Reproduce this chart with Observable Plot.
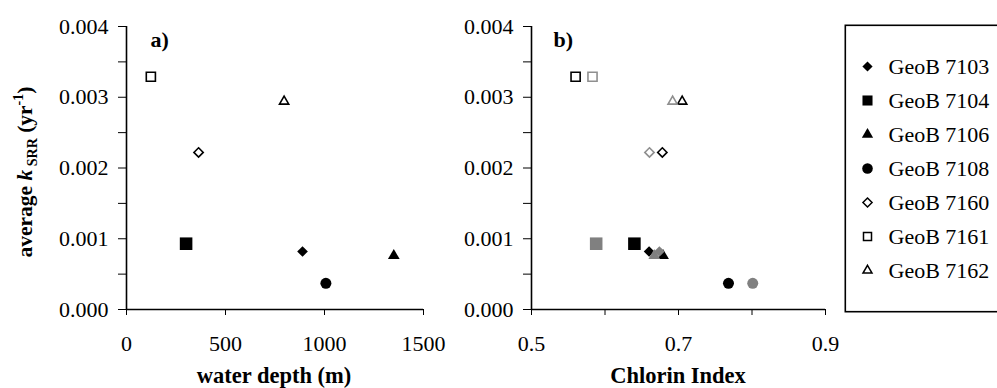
<!DOCTYPE html>
<html>
<head>
<meta charset="utf-8">
<script src="https://cdn.jsdelivr.net/npm/d3@7"></script>
<script src="https://cdn.jsdelivr.net/npm/@observablehq/plot@0.6"></script>
<style>
  html, body { margin: 0; padding: 0; background: #fff; }
  #chart { position: relative; width: 997px; height: 388px; overflow: hidden;
           font-family: "Liberation Serif", "Times New Roman", serif; color: #000; }
  #chart > svg { position: absolute; top: 0; }
</style>
</head>
<body>
<div id="chart"></div>
<script>
// Sediment cores and their average sulfate-reduction rate constants
const stations = ["GeoB 7103", "GeoB 7104", "GeoB 7106", "GeoB 7108", "GeoB 7160", "GeoB 7161", "GeoB 7162"];
const kSRR = [0.00082, 0.00093, 0.00076, 0.00037, 0.00222, 0.00329, 0.00294];
const waterDepth = [889, 301, 1350, 1007, 364, 123, 796];
// Chlorin Index, two determinations per core (black and grey symbols)
const chlorinIndex = [0.660, 0.640, 0.679, 0.768, 0.678, 0.560, 0.705];
const chlorinIndexGrey = [0.674, 0.588, 0.667, 0.801, 0.6605, 0.583, 0.692];

// Axis ticks
const kTicks = [0, 0.0005, 0.001, 0.0015, 0.002, 0.0025, 0.003, 0.0035, 0.004];
const depthTicks = [0, 500, 1000, 1500];
const chlorinTicks = [0.5, 0.6, 0.7, 0.8, 0.9];
const chlorinLabels = [0.5, 0.7, 0.9];

// Marker per core: symbol, filled or open, radius in the panels and in the legend
const symbols = ["diamond2", "square2", "triangle2", "circle", "diamond2", "square2", "triangle2"];
const filled = [true, true, true, true, false, false, false];
const radii = [4.8, 8, 5.6, 5.5, 4.2, 5.8, 4.4];
const legendRadii = [4.6, 6.4, 5.4, 5.3, 4.1, 5.1, 4.3];

const rows = stations.map((station, i) => ({
  station, k: kSRR[i], depth: waterDepth[i], ci: chlorinIndex[i], ci2: chlorinIndexGrey[i]
}));

const font = "'Liberation Serif', 'Times New Roman', serif";
const baseStyle = {fontSize: "22px", color: "#000", background: "transparent", overflow: "visible"};
const kFormat = d => Math.abs(d * 1000 - Math.round(d * 1000)) < 1e-9 ? d.toFixed(3) : "";

function dotsFor(xField, colour, openColour) {
  return rows.map((row, i) => Plot.dot([row], {
    x: xField, y: "k",
    symbol: symbols[i],
    r: radii[i],
    fill: filled[i] ? colour : "white",
    stroke: filled[i] ? "none" : openColour,
    strokeWidth: 1.6
  }));
}

const yAxis = {domain: [0, 0.004], ticks: kTicks, tickFormat: kFormat, tickSize: 8, tickPadding: 10, label: null};

// Panel a: rate constant vs water depth
const plotA = Plot.plot({
  width: 440, height: 388,
  marginLeft: 126, marginRight: 17, marginTop: 26, marginBottom: 79,
  style: baseStyle,
  x: {domain: [0, 1500], ticks: depthTicks, tickFormat: d => String(d), tickSize: 6, tickPadding: 20, label: null},
  y: yAxis,
  marks: [
    Plot.ruleX([0], {strokeWidth: 1.6}),
    Plot.ruleY([0], {strokeWidth: 1.6}),
    Plot.text(["a)"], {frameAnchor: "top-left", dx: 24, dy: 5, fontWeight: "bold", fontSize: 22}),
    ...dotsFor("depth", "black", "black")
  ]
});

// Panel b: rate constant vs Chlorin Index
const plotB = Plot.plot({
  width: 400, height: 388,
  marginLeft: 91, marginRight: 15, marginTop: 26, marginBottom: 79,
  style: baseStyle,
  x: {domain: [0.5, 0.9], ticks: chlorinTicks,
      tickFormat: d => chlorinLabels.some(v => Math.abs(v - d) < 1e-9) ? d.toFixed(1) : "",
      tickSize: 6, tickPadding: 20, label: null},
  y: yAxis,
  marks: [
    Plot.ruleX([0.5], {strokeWidth: 1.6}),
    Plot.ruleY([0], {strokeWidth: 1.6}),
    Plot.text(["b)"], {frameAnchor: "top-left", dx: 22, dy: 5, fontWeight: "bold", fontSize: 22}),
    ...dotsFor("ci", "black", "black"),
    ...dotsFor("ci2", "#808080", "#8f8f8f")
  ]
});

// Legend box
const legend = Plot.plot({
  width: 160, height: 288,
  margin: 0,
  style: baseStyle,
  x: {domain: [0, 160], range: [0, 160], axis: null},
  y: {type: "point", domain: stations, range: [23, 265], axis: null},
  marks: [
    Plot.frame({stroke: "black", strokeWidth: 1.6, inset: 0.8}),
    ...rows.map((row, i) => Plot.dot([row], {
      x: () => 23, y: "station", symbol: symbols[i], r: legendRadii[i],
      fill: filled[i] ? "black" : "white", stroke: filled[i] ? "none" : "black", strokeWidth: 1.5
    })),
    Plot.text(rows, {x: () => 44, y: "station", text: "station", textAnchor: "start", fontSize: 22})
  ]
});

const chart = document.getElementById("chart");
plotA.style.left = "0px";
plotB.style.left = "440px";
legend.style.left = "844px";
legend.style.top = "24px";
chart.append(plotA, plotB, legend);

// Axis titles
const svgA = d3.select(plotA);
const yTitle = svgA.append("text")
  .attr("transform", "translate(32,172) rotate(-90)")
  .attr("text-anchor", "middle")
  .attr("font-weight", "bold")
  .attr("font-size", 21.5)
  .attr("fill", "black");
yTitle.append("tspan").text("average ");
yTitle.append("tspan").attr("font-style", "italic").text("k");
yTitle.append("tspan").attr("font-size", 14).attr("dy", 5).text(" SRR");
yTitle.append("tspan").attr("dy", -5).text(" (yr");
yTitle.append("tspan").attr("font-size", 14).attr("dy", -9).text("-1");
yTitle.append("tspan").attr("dy", 9).text(")");

svgA.append("text")
  .attr("x", 274).attr("y", 383)
  .attr("text-anchor", "middle")
  .attr("font-weight", "bold").attr("font-size", 22.5)
  .text("water depth (m)");

d3.select(plotB).append("text")
  .attr("x", (531 + 825) / 2 - 440).attr("y", 383)
  .attr("text-anchor", "middle")
  .attr("font-weight", "bold").attr("font-size", 22.5)
  .text("Chlorin Index");

// Serif typeface on every text, over the library's default sans-serif
d3.selectAll("#chart svg").style("font-family", font, "important");
d3.selectAll("#chart svg g, #chart svg text, #chart svg tspan").style("font-family", font, "important");
</script>
</body>
</html>
